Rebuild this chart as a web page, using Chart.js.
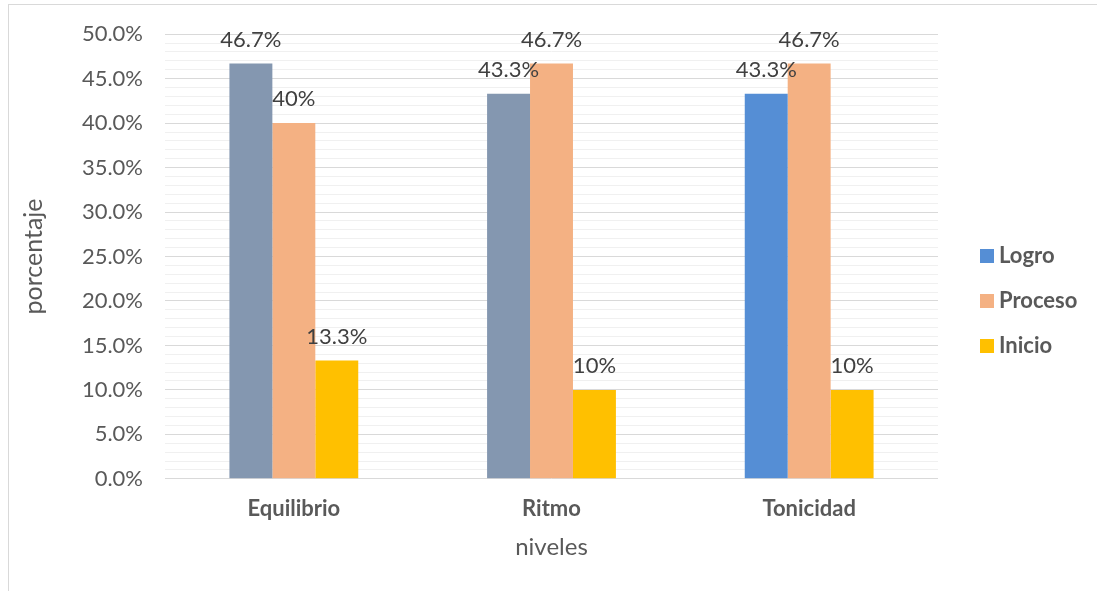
<!DOCTYPE html>
<html>
<head>
<meta charset="utf-8">
<script src="https://cdn.jsdelivr.net/npm/chart.js@4.4.1/dist/chart.umd.min.js"></script>
<style>
    body { margin: 0; background: #fff; }
    .marco {
        position: absolute; left: 8px; top: 4px;
        width: 1100px; height: 600px;
        border: 1px solid #d9d9d9; box-sizing: border-box;
    }
    .lienzo { position: absolute; left: 9px; top: 5px; width: 1088px; height: 586px; }
</style>
</head>
<body>
<div class="marco"></div>
<div class="lienzo"><canvas id="chartNiveles"></canvas></div>
<script>
const niveles = ['Equilibrio', 'Ritmo', 'Tonicidad'];
const logro = [46.7, 43.3, 43.3];
const proceso = [40, 46.7, 46.7];
const inicio = [13.3, 10, 10];
const yMax = 50;

const fuente = "Lato, 'Open Sans', sans-serif";
const anchoLeyenda = 159;

// cuadrito de color para la leyenda
function cuadro(color) {
    const cv = document.createElement('canvas');
    cv.width = 14;
    cv.height = 14;
    const g = cv.getContext('2d');
    g.fillStyle = color;
    g.fillRect(0, 0, 14, 14);
    return cv;
}

/* etiquetas encima de cada barra */
const etiquetas = {
    id: 'etiquetas',
    afterDatasetsDraw(chart) {
        const c = chart.ctx;
        c.save();
        c.font = '22px ' + fuente;
        c.fillStyle = '#404040';
        c.textAlign = 'center';
        c.textBaseline = 'alphabetic';
        chart.data.datasets.forEach((ds, i) => {
            chart.getDatasetMeta(i).data.forEach((bar, j) => {
                c.fillText(ds.data[j] + '%', bar.x, bar.y - 17);
            });
        });
        c.restore();
    }
};

/* ancho fijo de la leyenda y algo de aire a su izquierda */
const leyendaFija = {
    id: 'leyendaFija',
    afterInit(chart) {
        const lg = chart.legend;
        const fit = lg.fit;
        lg.fit = function () {
            fit.call(this);
            this.width = anchoLeyenda;
        };
    },
    afterLayout(chart) {
        const lg = chart.legend;
        lg.left = chart.chartArea.right + 25;
        lg.right = lg.left + lg.width;
        lg.top += 7;
        lg.bottom += 7;
    }
};

new Chart(document.getElementById('chartNiveles'), {
    type: 'bar',
    data: {
        labels: niveles,
        datasets: [{
            label: 'Logro',
            data: logro,
            backgroundColor: ['#8497b0', '#8497b0', '#558ed5']
        }, {
            label: 'Proceso',
            data: proceso,
            backgroundColor: '#f4b183'
        }, {
            label: 'Inicio',
            data: inicio,
            backgroundColor: '#ffc000'
        }]
    },
    options: {
        responsive: true,
        maintainAspectRatio: false,
        animation: false,
        categoryPercentage: 0.5,
        barPercentage: 1,
        layout: { padding: { top: 20, right: 0, bottom: 29, left: 0 } },
        scales: {
            x: {
                grid: { display: false },
                border: { display: false },
                ticks: {
                    color: '#595959',
                    padding: 9,
                    font: { size: 22, weight: 'bold', family: fuente }
                },
                title: {
                    display: true,
                    text: 'niveles',
                    color: '#595959',
                    padding: { top: 2, bottom: 0 },
                    font: { size: 24, family: fuente }
                }
            },
            y: {
                min: 0,
                max: yMax,
                afterFit: (scale) => { scale.width = 156; },
                border: { display: false },
                grid: {
                    tickLength: 6,
                    tickColor: 'transparent',
                    color: (ctx) => ctx.tick && ctx.tick.value % 5 === 0 ? '#d9d9d9' : '#f0f0f0'
                },
                ticks: {
                    stepSize: 1,
                    autoSkip: false,
                    padding: 16,
                    color: '#595959',
                    font: { size: 22, family: fuente },
                    callback: (v) => v % 5 === 0 ? v.toFixed(1) + '%' : ''
                },
                title: {
                    display: true,
                    text: 'porcentaje',
                    color: '#595959',
                    padding: { top: 10, bottom: 0 },
                    font: { size: 25, family: fuente }
                }
            }
        },
        plugins: {
            legend: {
                position: 'right',
                labels: {
                    color: '#595959',
                    usePointStyle: true,
                    pointStyleWidth: 2,
                    boxHeight: 14,
                    padding: 23,
                    font: { size: 22, weight: 'bold', family: fuente },
                    generateLabels: (chart) => chart.data.datasets.map((ds, i) => ({
                        text: ds.label,
                        pointStyle: cuadro(i === 0 ? '#558ed5' : ds.backgroundColor),
                        fillStyle: i === 0 ? '#558ed5' : ds.backgroundColor,
                        strokeStyle: 'transparent',
                        lineWidth: 0,
                        fontColor: '#595959',
                        datasetIndex: i
                    }))
                }
            },
            tooltip: { enabled: false }
        }
    },
    plugins: [etiquetas, leyendaFija]
});
</script>
</body>
</html>
